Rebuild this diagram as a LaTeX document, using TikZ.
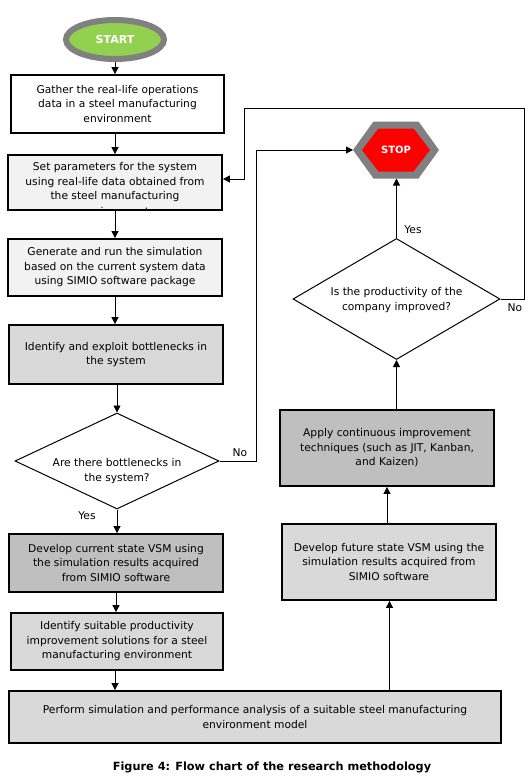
\documentclass[tikz,border=0pt]{standalone}
\usepackage{fontspec}
\setmainfont{DejaVu Sans}
\usetikzlibrary{shapes.geometric,arrows.meta,calc}
\definecolor{startgreen}{HTML}{92D050}
\definecolor{ringgray}{HTML}{808080}
\definecolor{stopred}{HTML}{FF0000}
\definecolor{fillA}{HTML}{F2F2F2}
\definecolor{fillB}{HTML}{D9D9D9}
\definecolor{fillC}{HTML}{BFBFBF}
\newcommand\boxfs{\fontsize{10.7}{14.5}\selectfont}
\begin{document}
\begin{tikzpicture}[x=1pt,y=-1pt,
  box/.style={draw=black, line width=1.8pt, rectangle, align=center, inner sep=0pt, font=\boxfs},
  decision/.style={draw=black, line width=1pt, diamond, inner sep=0pt, align=center, font=\boxfs},
  arr/.style={-{Triangle[length=7pt,width=7pt]}, line width=0.9pt, draw=black},
  lbl/.style={font=\boxfs, inner sep=0pt}]
\useasboundingbox (0,0) rectangle (531,779);

% start
\node[ellipse, draw=ringgray, line width=6pt, fill=startgreen, minimum width=98pt, minimum height=39pt,
      inner sep=0pt, text=white, font=\bfseries\fontsize{11}{12}\selectfont] (start) at (115,39.5) {START};

% left column
\node[box, fill=white, minimum width=213pt, minimum height=58pt] (b1) at (117.5,104)
  {Gather the real-life operations\\data in a steel manufacturing\\environment};
\node[box, fill=fillA, minimum width=214pt, minimum height=55pt] (b2) at (115,182.5)
  {Set parameters for the system\\using real-life data obtained from\\the steel manufacturing};
\begin{scope}
  \clip (9,156) rectangle (221,208.5);
  \node[lbl] (b2more) at (115,211.5) {environment};
\end{scope}
\node[box, fill=fillA, minimum width=214pt, minimum height=57pt] (b3) at (115,267.5)
  {Generate and run the simulation\\based on the current system data\\using SIMIO software package};
\node[box, fill=fillB, minimum width=214pt, minimum height=59pt] (b4) at (116,354.5)
  {Identify and exploit bottlenecks in\\the system};
\node[decision, minimum width=204pt, minimum height=96pt] (d1) at (117,461) {};
\node[lbl, align=center] (d1txt) at (117,471) {Are there bottlenecks in\\the system?};
\node[box, fill=fillC, minimum width=214pt, minimum height=58pt] (b5) at (116,563)
  {Develop current state VSM using\\the simulation results acquired\\from SIMIO software};
\node[box, fill=fillB, minimum width=212pt, minimum height=57pt] (b6) at (117,641.5)
  {Identify suitable productivity\\improvement solutions for a steel\\manufacturing environment};
\node[box, fill=fillB, minimum width=492pt, minimum height=52pt] (b7) at (255,717)
  {Perform simulation and performance analysis of a suitable steel manufacturing\\environment model};

% right column
\node[box, fill=fillB, minimum width=214pt, minimum height=76pt] (b8) at (389,562)
  {Develop future state VSM using the\\simulation results acquired from\\SIMIO software};
\node[box, fill=fillC, minimum width=214pt, minimum height=76pt] (b9) at (387,448)
  {Apply continuous improvement\\techniques (such as JIT, Kanban,\\and Kaizen)};
\node[decision, minimum width=207pt, minimum height=121pt] (d2) at (396.5,299) {};
\node[lbl, align=center] (d2txt) at (396.5,300) {Is the productivity of the\\company improved?};

% stop hexagon
\coordinate (stopc) at (396,150);
\fill[ringgray] ($(stopc)+(-43,0)$) -- ($(stopc)+(-22.5,-28.5)$) -- ($(stopc)+(22.5,-28.5)$)
  -- ($(stopc)+(43,0)$) -- ($(stopc)+(22.5,28.5)$) -- ($(stopc)+(-22.5,28.5)$) -- cycle;
\fill[stopred] ($(stopc)+(-34,0)$) -- ($(stopc)+(-17.5,-21.5)$) -- ($(stopc)+(17.5,-21.5)$)
  -- ($(stopc)+(34,0)$) -- ($(stopc)+(17.5,21.5)$) -- ($(stopc)+(-17.5,21.5)$) -- cycle;
\node[minimum width=86pt, minimum height=57pt, inner sep=0pt, outer sep=0pt, text=white,
      font=\bfseries\fontsize{10}{12}\selectfont] (stop) at (stopc) {STOP};

% connectors
\coordinate (colx) at (115,0);
\coordinate (colm) at (116,0);
\coordinate (colr) at (389.5,0);
\draw[arr] (start.south) -- (start.south |- b1.north);
\draw[arr] (b1.south -| colx) -- (b2.north -| colx);
\draw[arr] (b2.south -| colx) -- (b3.north -| colx);
\draw[arr] (b3.south -| colx) -- (b4.north -| colx);
\draw[arr] (b4.south -| d1.north) -- (d1.north);
\draw[arr] (d1.south) -- (d1.south |- b5.north);
\draw[arr] (b5.south -| colm) -- (b6.north -| colm);
\draw[arr] (b6.south -| colx) -- (b7.north -| colx);
\draw[arr] (b7.north -| colr) -- (b8.south -| colr);
\draw[arr] (b8.north -| b9.center) -- (b9.south);
\draw[arr] (b9.north -| d2.south) -- (d2.south);
\draw[arr] (d2.north) -- (d2.north |- stop.south);

\coordinate (n1) at (256,0);
\draw[arr] (d1.east) -- (d1.east -| n1) -- (n1 |- stop.west) -- (stop.west);
\coordinate (nr) at (524,108);
\coordinate (nl) at (244,179);
\draw[arr] (d2.east) -- (d2.east -| nr) -- (nr) -- (nr -| nl) -- (nl) -- (nl -| b2.east);

% labels
\node[lbl] (no1) at (240,453) {No};
\node[lbl] (yes1) at (87,516) {Yes};
\node[lbl] (yes2) at (413,230) {Yes};
\node[lbl] (no2) at (515,308) {No};

% caption
\node[inner sep=0pt, font=\bfseries\fontsize{11.3}{13}\selectfont] (cap) at (272,767)
  {Figure 4: Flow chart of the research methodology};
\end{tikzpicture}
\end{document}
